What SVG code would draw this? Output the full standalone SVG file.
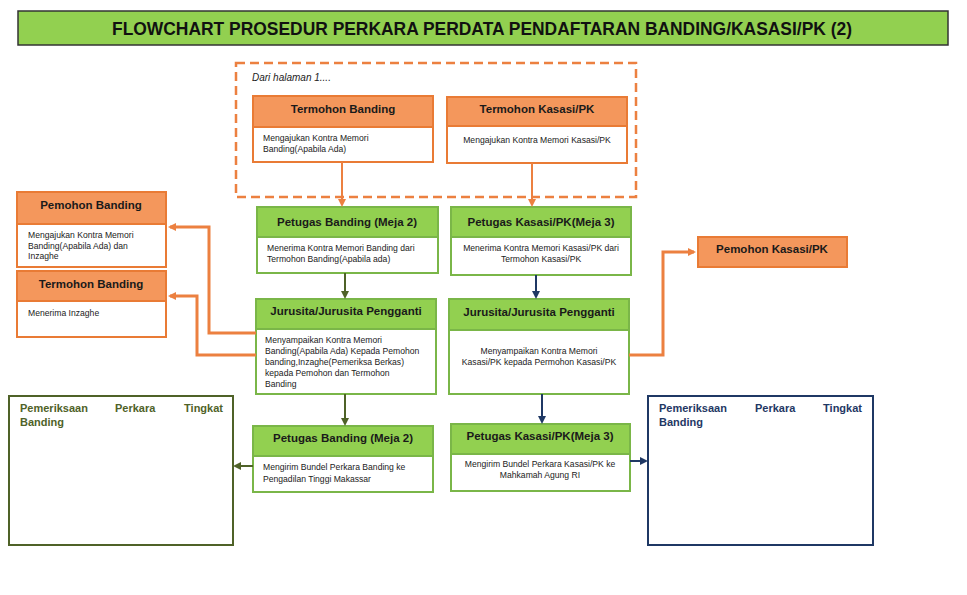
<svg xmlns="http://www.w3.org/2000/svg" width="967" height="595" viewBox="0 0 967 595">
<defs>
<style>
.hdrO{fill:#F4975C;stroke:#E97B35;stroke-width:2}
.bodyO{fill:#fff;stroke:#E97B35;stroke-width:2}
.hdrG{fill:#92D050;stroke:#7AB648;stroke-width:2}
.bodyG{fill:#fff;stroke:#7AB648;stroke-width:2}
.ht{font-family:"Liberation Sans",Arial,sans-serif;font-weight:bold;font-size:11.5px;fill:#1a1a1a;text-anchor:middle}
.bt{font-family:"Liberation Sans",Arial,sans-serif;font-size:8.6px;fill:#222}
.btc{font-family:"Liberation Sans",Arial,sans-serif;font-size:8.6px;fill:#222;text-anchor:middle}
.co{fill:none;stroke:#EC8040;stroke-width:3}
.cg{fill:none;stroke:#4F6228;stroke-width:2}
.cn{fill:none;stroke:#1F3864;stroke-width:2}
</style>
<marker id="aO" markerWidth="8" markerHeight="8" refX="6" refY="4" orient="auto" markerUnits="userSpaceOnUse"><path d="M0,0 L8,4 L0,8 Z" fill="#EC8040"/></marker>
<marker id="aOs" markerWidth="8" markerHeight="8" refX="6" refY="4" orient="auto" markerUnits="userSpaceOnUse"><path d="M0,0 L8,4 L0,8 Z" fill="#EC8040"/></marker>
<marker id="aG" markerWidth="8" markerHeight="8" refX="6" refY="4" orient="auto" markerUnits="userSpaceOnUse"><path d="M0,0 L8,4 L0,8 Z" fill="#4F6228"/></marker>
<marker id="aN" markerWidth="8" markerHeight="8" refX="6" refY="4" orient="auto" markerUnits="userSpaceOnUse"><path d="M0,0 L8,4 L0,8 Z" fill="#1F3864"/></marker>
</defs>
<rect width="967" height="595" fill="#fff"/>

<g id="title">
<rect x="18" y="11" width="930" height="34" fill="#92D050" stroke="#333" stroke-width="1.5"/>
<text x="482" y="35" font-family="'Liberation Sans Narrow','Liberation Sans',Arial,sans-serif" font-weight="bold" font-size="19" text-anchor="middle" fill="#111" textLength="740" lengthAdjust="spacingAndGlyphs">FLOWCHART PROSEDUR PERKARA PERDATA PENDAFTARAN BANDING/KASASI/PK (2)</text>
</g>

<g id="halaman1">
<rect x="236" y="63" width="400" height="134" fill="none" stroke="#EC8040" stroke-width="2.5" stroke-dasharray="9,5"/>
<text x="252" y="81" font-family="'Liberation Sans',Arial,sans-serif" font-style="italic" font-size="10" fill="#222">Dari halaman 1....</text>
</g>

<g id="termohon-banding-top">
<rect class="hdrO" x="253" y="96" width="180" height="31"/>
<rect class="bodyO" x="253" y="127" width="180" height="35"/>
<text class="ht" x="343" y="113">Termohon Banding</text>
<text class="bt" x="263" y="141">Mengajukan Kontra Memori</text>
<text class="bt" x="263" y="152">Banding(Apabila Ada)</text>
</g>

<g id="termohon-kasasi">
<rect class="hdrO" x="447" y="97" width="180" height="29"/>
<rect class="bodyO" x="447" y="126" width="180" height="37"/>
<text class="ht" x="537" y="113">Termohon Kasasi/PK</text>
<text class="btc" x="537" y="143">Mengajukan Kontra Memori Kasasi/PK</text>
</g>

<g id="petugas-banding-1">
<rect class="hdrG" x="257" y="207" width="181" height="30"/>
<rect class="bodyG" x="257" y="237" width="181" height="36"/>
<text class="ht" x="347" y="226">Petugas Banding (Meja 2)</text>
<text class="bt" x="267" y="251">Menerima Kontra Memori Banding dari</text>
<text class="bt" x="267" y="262">Termohon Banding(Apabila ada)</text>
</g>

<g id="petugas-kasasi-1">
<rect class="hdrG" x="451" y="207" width="180" height="30"/>
<rect class="bodyG" x="451" y="237" width="180" height="38"/>
<text class="ht" x="541" y="226">Petugas Kasasi/PK(Meja 3)</text>
<text class="btc" x="541" y="251">Menerima Kontra Memori Kasasi/PK dari</text>
<text class="btc" x="541" y="262">Termohon Kasasi/PK</text>
</g>

<g id="jurusita-banding">
<rect class="hdrG" x="256" y="299" width="180" height="30"/>
<rect class="bodyG" x="256" y="329" width="180" height="65"/>
<text class="ht" x="346" y="315">Jurusita/Jurusita Pengganti</text>
<text class="bt" x="265" y="343">Menyampaikan Kontra Memori</text>
<text class="bt" x="265" y="354">Banding(Apabila Ada) Kepada Pemohon</text>
<text class="bt" x="265" y="365">banding,Inzaghe(Pemeriksa Berkas)</text>
<text class="bt" x="265" y="376">kepada Pemohon dan Termohon</text>
<text class="bt" x="265" y="387">Banding</text>
</g>

<g id="jurusita-kasasi">
<rect class="hdrG" x="449" y="299" width="180" height="31"/>
<rect class="bodyG" x="449" y="330" width="180" height="64"/>
<text class="ht" x="539" y="316">Jurusita/Jurusita Pengganti</text>
<text class="btc" x="539" y="354">Menyampaikan Kontra Memori</text>
<text class="btc" x="539" y="365">Kasasi/PK kepada Permohon Kasasi/PK</text>
</g>

<g id="pemohon-banding">
<rect class="hdrO" x="17" y="192" width="149" height="32"/>
<rect class="bodyO" x="17" y="224" width="149" height="43"/>
<text class="ht" x="91" y="209">Pemohon Banding</text>
<text class="bt" x="28" y="238">Mengajukan Kontra Memori</text>
<text class="bt" x="28" y="249">Banding(Apabila Ada) dan</text>
<text class="bt" x="28" y="259">Inzaghe</text>
</g>

<g id="termohon-banding-left">
<rect class="hdrO" x="17" y="271" width="149" height="30"/>
<rect class="bodyO" x="17" y="301" width="149" height="36"/>
<text class="ht" x="91" y="288">Termohon Banding</text>
<text class="bt" x="28" y="316">Menerima Inzaghe</text>
</g>

<g id="pemohon-kasasi">
<rect class="hdrO" x="698" y="237" width="149" height="30"/>
<text class="ht" x="772" y="253">Pemohon Kasasi/PK</text>
</g>

<g id="petugas-banding-2">
<rect class="hdrG" x="253" y="426" width="180" height="30"/>
<rect class="bodyG" x="253" y="456" width="180" height="36"/>
<text class="ht" x="343" y="442">Petugas Banding (Meja 2)</text>
<text class="bt" x="263" y="470">Mengirim Bundel Perkara Banding ke</text>
<text class="bt" x="263" y="482">Pengadilan Tinggi Makassar</text>
</g>

<g id="petugas-kasasi-2">
<rect class="hdrG" x="451" y="424" width="179" height="30"/>
<rect class="bodyG" x="451" y="454" width="179" height="37"/>
<text class="ht" x="540" y="440">Petugas Kasasi/PK(Meja 3)</text>
<text class="btc" x="540" y="467">Mengirim Bundel Perkara Kasasi/PK ke</text>
<text class="btc" x="540" y="478">Mahkamah Agung RI</text>
</g>

<g id="pemeriksaan-banding">
<rect x="9" y="396" width="224" height="149" fill="#fff" stroke="#4F6228" stroke-width="2"/>
<g font-family="'Liberation Sans',Arial,sans-serif" font-weight="bold" font-size="11" fill="#4F6228">
<text x="20" y="412">Pemeriksaan</text>
<text x="115" y="412">Perkara</text>
<text x="223" y="412" text-anchor="end">Tingkat</text>
<text x="20" y="426">Banding</text>
</g>
</g>

<g id="pemeriksaan-kasasi">
<rect x="648" y="396" width="225" height="149" fill="#fff" stroke="#1F3864" stroke-width="2"/>
<g font-family="'Liberation Sans',Arial,sans-serif" font-weight="bold" font-size="11" fill="#1F3864">
<text x="659" y="412">Pemeriksaan</text>
<text x="755" y="412">Perkara</text>
<text x="862" y="412" text-anchor="end">Tingkat</text>
<text x="659" y="426">Banding</text>
</g>
</g>

<g id="connectors">
<path class="co" style="stroke-width:2" d="M342,162 V205" marker-end="url(#aOs)"/>
<path class="co" style="stroke-width:2" d="M532,163 V205" marker-end="url(#aOs)"/>
<path class="cg" d="M345,273 V297" marker-end="url(#aG)"/>
<path class="cn" d="M536,275 V297" marker-end="url(#aN)"/>
<path class="co" d="M256,333 H209 V227 H170" marker-end="url(#aO)"/>
<path class="co" d="M256,355 H197 V296 H170" marker-end="url(#aO)"/>
<path class="co" d="M629,355 H663 V252 H694" marker-end="url(#aO)"/>
<path class="cg" d="M345,394 V424" marker-end="url(#aG)"/>
<path class="cn" d="M542,394 V422" marker-end="url(#aN)"/>
<path class="cg" d="M253,466 H235" marker-end="url(#aG)"/>
<path class="cn" d="M630,461 H646" marker-end="url(#aN)"/>
</g>
</svg>
